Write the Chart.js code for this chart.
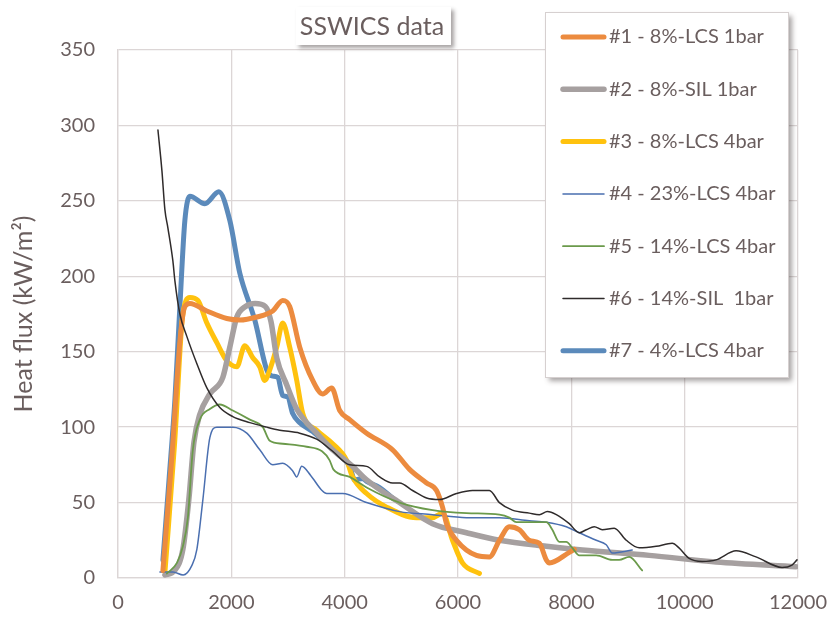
<!DOCTYPE html>
<html>
<head>
<meta charset="utf-8">
<script src="https://cdn.jsdelivr.net/npm/chart.js@4.4.1/dist/chart.umd.min.js"></script>
<style>
  html, body { margin: 0; background: #fff; }
</style>
</head>
<body>
<canvas id="chart" width="828" height="620"></canvas>
<script>
// x = time, y = heat flux (kW/m2)
const xTicks = [0, 2000, 4000, 6000, 8000, 10000, 12000];
const yTicks = [0, 50, 100, 150, 200, 250, 300, 350];

const labels = [
    '#1 - 8%-LCS 1bar',
    '#2 - 8%-SIL 1bar',
    '#3 - 8%-LCS 4bar',
    '#4 - 23%-LCS 4bar',
    '#5 - 14%-LCS 4bar',
    '#6 - 14%-SIL  1bar',
    '#7 - 4%-LCS 4bar'
];

const s1x = [793, 950, 1100, 1180, 1269, 1568, 1920, 2150, 2449, 2731, 2907, 3030, 3207, 3436, 3612, 3770, 3912, 4088, 4387, 4846, 5145, 5445, 5621, 5727, 5797, 5973, 6325, 6554, 6731, 6907, 7083, 7259, 7436, 7559, 7612, 7964, 8052];
const s1y = [5, 80, 160, 180, 182, 177, 172, 171, 173, 177, 184, 180, 153, 131, 122, 126, 111, 105, 96, 85, 72, 63, 58, 47, 36, 25, 15, 14, 25, 34, 32, 25, 23, 12, 10, 17, 19];

const s2x = [828, 1000, 1145, 1250, 1340, 1440, 1621, 1850, 1973, 2097, 2250, 2420, 2600, 2700, 2801, 2978, 3154, 3506, 3788, 4140, 4387, 4969, 5551, 6149, 6731, 7559, 8193, 9374, 10554, 11964];
const s2y = [2, 5, 19, 52, 90, 108, 122, 133, 153, 173, 180, 182, 180, 170, 146, 128, 112, 96, 85, 74, 65, 50, 36, 30, 25, 21, 18.5, 15, 10.6, 7.5];

const s3x = [828, 1000, 1130, 1200, 1269, 1410, 1568, 1744, 1920, 2097, 2238, 2379, 2502, 2590, 2678, 2801, 2907, 3030, 3154, 3260, 3506, 3788, 4035, 4140, 4387, 4740, 5268, 5551, 5727, 5903, 6079, 6378];
const s3y = [4, 90, 170, 184, 186, 184, 169, 156, 144, 140, 154, 146, 140, 131, 138, 153, 169, 153, 131, 109, 98, 89, 78, 67, 56, 47, 40, 40, 43, 25, 10, 3];

const s4x = [740, 969, 1150, 1300, 1392, 1498, 1621, 1744, 2026, 2273, 2502, 2731, 2907, 3083, 3154, 3242, 3400, 3600, 3683, 3965, 4387, 4969, 5551, 6149, 6731, 7259, 7559, 7911, 8140, 8440, 8616, 8722, 9074];
const s4y = [4, 4, 2, 8, 19, 52, 93, 100, 100, 96, 85, 75, 76, 71, 67, 74, 68, 58, 56, 56, 50, 44, 42, 40, 40, 38, 37, 34, 30, 25, 22, 16.5, 18.5];

const s5x = [863, 1040, 1145, 1233, 1321, 1445, 1621, 1797, 2026, 2326, 2555, 2678, 2907, 3330, 3600, 3735, 3800, 4088, 4387, 4969, 5551, 6149, 6731, 6907, 7030, 7559, 7665, 7788, 7911, 8017, 8140, 8440, 8722, 8845, 9021, 9250];
const s5y = [3, 10, 21, 40, 85, 105, 112, 115, 111, 105, 100, 91, 89, 87, 84, 78, 72, 67, 60, 50, 45, 43, 42, 40, 37, 37, 32, 24, 24, 20, 15, 15, 12, 12, 14, 5];

const s6x = [705, 775, 828, 881, 969, 1004, 1092, 1216, 1392, 1568, 1797, 2026, 2326, 2625, 2854, 3207, 3506, 3788, 4088, 4387, 4617, 4846, 4969, 5198, 5445, 5674, 5973, 6255, 6554, 6731, 6960, 7259, 7436, 7577, 7735, 7964, 8140, 8264, 8405, 8546, 8757, 8969, 9198, 9497, 9780, 9900, 10079, 10308, 10554, 10907, 11259, 11718, 11894, 11982];
const s6y = [297, 270, 244, 232, 210, 197, 175, 160, 142, 126, 113, 107, 103, 100, 98, 96, 92, 84, 75, 74, 67, 63, 63, 58, 53, 52, 56, 58, 58, 50, 45, 43, 42, 44, 42, 36, 30, 32, 34, 32, 33, 25, 20, 21, 23, 20, 13, 11, 12, 18, 14, 7, 8.6, 12];

const s7x = [793, 900, 1004, 1092, 1180, 1269, 1533, 1780, 1973, 2150, 2414, 2625, 2713, 2819, 2907, 2995, 3083, 3207, 3436, 3788, 4088, 4176, 4317, 4387, 4617, 4846];
const s7y = [12, 65, 118, 180, 237, 253, 248, 256, 237, 202, 171, 138, 134, 133, 121, 120, 109, 103, 97, 85, 74, 65, 66, 64, 60, 53];

const colors = ['#ec8b3f', '#a6a0a0', '#ffc20e', '#4a6fb0', '#6b9a4b', '#2f2b2b', '#5b8abb'];
const widths = [5, 5.5, 5, 1.5, 1.8, 1.5, 5];

const textColor = '#6a5e5e';
const gridColor = '#dcd6d6';

function pts(xs, ys) {
    return xs.map((x, i) => ({ x: x, y: ys[i] }));
}

const series = [[s1x, s1y], [s2x, s2y], [s3x, s3y], [s4x, s4y], [s5x, s5y], [s6x, s6y], [s7x, s7y]];
// draw order: thin lines behind the thick ones like in the original
const drawOrder = [3, 5, 6, 4, 2, 1, 7];

const datasets = series.map((s, i) => ({
    label: labels[i],
    data: pts(s[0], s[1]),
    borderColor: colors[i],
    backgroundColor: colors[i],
    borderWidth: widths[i],
    showLine: true,
    pointRadius: 0,
    cubicInterpolationMode: 'monotone',
    borderCapStyle: 'round',
    borderJoinStyle: 'round',
    order: drawOrder[i]
}));

const titleBox = {
    id: 'titleBox',
    afterDraw(chart) {
        const ctx = chart.ctx;
        ctx.save();
        ctx.shadowColor = 'rgba(60,50,50,0.45)';
        ctx.shadowOffsetX = 3;
        ctx.shadowOffsetY = 3;
        ctx.shadowBlur = 4;
        ctx.fillStyle = '#fff';
        ctx.fillRect(296, 7, 155, 38);
        ctx.restore();
        ctx.save();
        ctx.fillStyle = textColor;
        ctx.font = '25px Lato';
        ctx.textAlign = 'center';
        ctx.textBaseline = 'middle';
        ctx.fillText('SSWICS data', 372, 27);
        ctx.restore();
    }
};

const legendBox = {
    id: 'legendBox',
    afterDraw(chart) {
        const ctx = chart.ctx;
        const left = 545, top = 12, w = 243, h = 365;
        ctx.save();
        ctx.shadowColor = 'rgba(60,50,50,0.45)';
        ctx.shadowOffsetX = 4;
        ctx.shadowOffsetY = 4;
        ctx.shadowBlur = 5;
        ctx.fillStyle = '#fff';
        ctx.fillRect(left, top, w, h);
        ctx.restore();
        ctx.save();
        ctx.strokeStyle = '#d6d0d0';
        ctx.lineWidth = 1;
        ctx.strokeRect(left + 0.5, top + 0.5, w, h);
        ctx.font = '20px Lato';
        ctx.textBaseline = 'middle';
        chart.data.datasets.forEach((ds, i) => {
            const y = top + 25 + i * 52.3;
            ctx.strokeStyle = ds.borderColor;
            ctx.lineWidth = ds.borderWidth;
            ctx.lineCap = 'round';
            ctx.beginPath();
            ctx.moveTo(left + 18, y);
            ctx.lineTo(left + 59, y);
            ctx.stroke();
            ctx.fillStyle = textColor;
            ctx.fillText(ds.label, left + 64, y);
        });
        ctx.restore();
    }
};

new Chart(document.getElementById('chart'), {
    type: 'scatter',
    data: { datasets: datasets },
    options: {
        responsive: false,
        animation: false,
        layout: { padding: { top: 50, right: 30, left: 0, bottom: 0 } },
        plugins: {
            legend: { display: false },
            tooltip: { enabled: false }
        },
        scales: {
            x: {
                type: 'linear',
                min: 0,
                max: 12000,
                afterBuildTicks: s => { s.ticks = xTicks.map(v => ({ value: v })); },
                afterFit: s => {
                    s.height = 42;
                    s.paddingLeft = 0;
                    s.paddingRight = 0;
                },
                grid: { color: gridColor, lineWidth: 1.3, drawTicks: false },
                border: { color: gridColor, width: 1.3 },
                ticks: {
                    color: textColor,
                    font: { family: 'Lato', size: 20 },
                    padding: 13,
                    maxRotation: 0,
                    callback: v => String(v)
                }
            },
            y: {
                min: 0,
                max: 350,
                afterBuildTicks: s => { s.ticks = yTicks.map(v => ({ value: v })); },
                afterFit: s => { s.width = 118; },
                grid: { color: gridColor, lineWidth: 1.3, drawTicks: false },
                border: { color: gridColor, width: 1.3 },
                ticks: { color: textColor, font: { family: 'Lato', size: 20 }, padding: 23 },
                title: {
                    display: true,
                    text: 'Heat flux (kW/m²)',
                    color: textColor,
                    font: { family: 'Lato', size: 25 },
                    padding: { top: 9, bottom: 0 }
                }
            }
        }
    },
    plugins: [titleBox, legendBox]
});
</script>
</body>
</html>
